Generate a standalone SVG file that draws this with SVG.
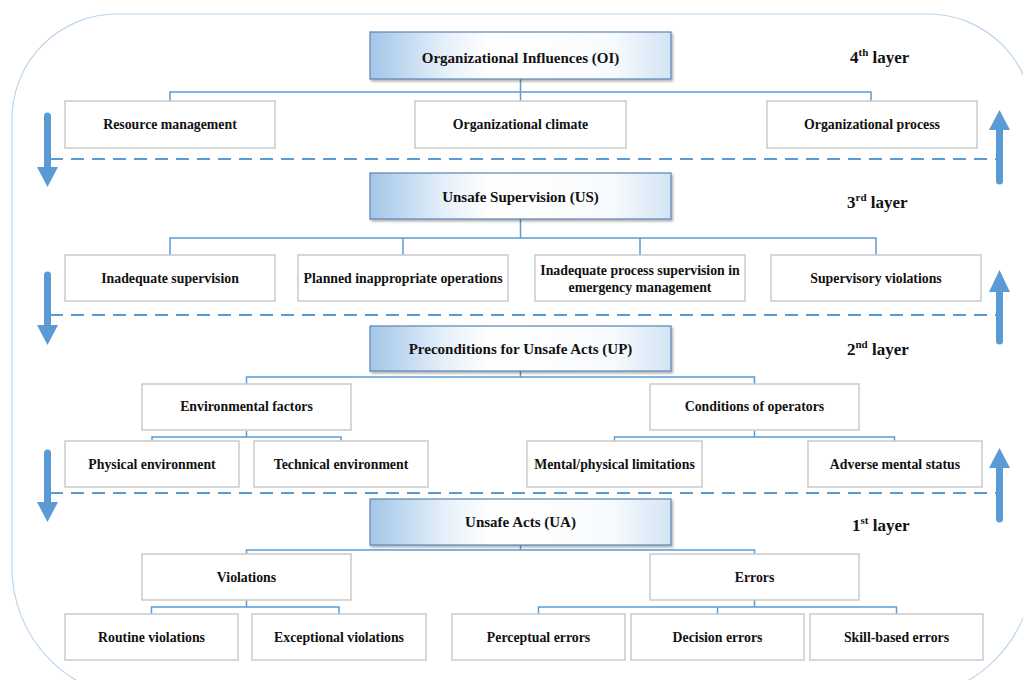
<svg xmlns="http://www.w3.org/2000/svg" width="1023" height="680" viewBox="0 0 1023 680">
  <style>
    .frame { fill: none; stroke: #bcd6ee; stroke-width: 1.2; }
    .hdr { fill: url(#hdrFill); stroke: #5a84b2; stroke-width: 1.2; filter: url(#shadow); }
    .box { fill: #ffffff; stroke: #cacaca; stroke-width: 1.5; }
    .lbl { font-family: "Liberation Serif", "Times New Roman", serif; font-weight: bold; font-size: 13.8px; fill: #111; text-anchor: middle; }
    .hlbl { font-family: "Liberation Serif", "Times New Roman", serif; font-weight: bold; font-size: 15px; fill: #111; text-anchor: middle; }
    .layer { font-family: "Liberation Serif", "Times New Roman", serif; font-weight: bold; font-size: 17px; fill: #111; }
    .conn { fill: none; stroke: #5b9bd5; stroke-width: 1.5; }
    .dash { fill: none; stroke: #5b9bd5; stroke-width: 2; stroke-dasharray: 13 8; }
    .shaft { fill: none; stroke: #5b9bd5; stroke-width: 7; stroke-linecap: round; }
    .head { fill: #5b9bd5; }
  </style>
  <defs>
    <linearGradient id="hdrFill" x1="0" y1="0" x2="1" y2="0">
      <stop offset="0" stop-color="#a3c6e8"/>
      <stop offset="0.25" stop-color="#e6f0fa"/>
      <stop offset="0.4" stop-color="#ffffff"/>
      <stop offset="0.8" stop-color="#f8fbfe"/>
      <stop offset="1" stop-color="#d3e4f4"/>
    </linearGradient>
    <filter id="shadow" x="-5%" y="-20%" width="110%" height="150%">
      <feDropShadow dx="1.5" dy="2" stdDeviation="1.2" flood-color="#000" flood-opacity="0.3"/>
    </filter>
  </defs>

  <!-- outer rounded frame -->
  <path class="frame" d="M117,14 H928 A105,105 0 0 1 1033,119 V568 A130,130 0 0 1 903,698 H142 A130,130 0 0 1 12,568 V119 A105,105 0 0 1 117,14 Z"/>

  <!-- connectors -->
  <g id="connectors">
    <!-- layer 4 -->
    <path class="conn" d="M520.5,79 V92 M170,101 V92 H871 V101 M520.5,92 V101"/>
    <!-- layer 3 -->
    <path class="conn" d="M520.5,219 V238 M170,255 V238 H876 V255 M403,238 V255 M640,238 V255"/>
    <!-- layer 2 -->
    <path class="conn" d="M520.5,371 V377 M246.5,385 V377 H754.5 V385"/>
    <path class="conn" d="M246.5,431 V437 M152,441 V437 H341 V441"/>
    <path class="conn" d="M754.5,431 V437 M614.5,441 V437 H894.5 V441"/>
    <!-- layer 1 -->
    <path class="conn" d="M520.5,545 V550 M246.5,554 V550 H754.5 V554"/>
    <path class="conn" d="M246.5,600 V607 M151.5,614 V607 H339 V614"/>
    <path class="conn" d="M754.5,600 V607 M538.5,614 V607 H896.5 V614 M717.5,607 V614"/>

    <!-- layer separators -->
    <line class="dash" x1="50" y1="159" x2="999" y2="159"/>
    <line class="dash" x1="50" y1="315" x2="999" y2="315"/>
    <line class="dash" x1="50" y1="493" x2="999" y2="493"/>

    <!-- downward arrows -->
    <line class="shaft" x1="47.5" y1="116" x2="47.5" y2="168"/>
    <polygon class="head" points="37,167 58,167 47.5,187"/>
    <line class="shaft" x1="47.5" y1="275" x2="47.5" y2="326"/>
    <polygon class="head" points="37,325 58,325 47.5,345"/>
    <line class="shaft" x1="47.5" y1="453" x2="47.5" y2="503"/>
    <polygon class="head" points="37,502 58,502 47.5,522"/>

    <!-- upward arrows -->
    <line class="shaft" x1="999.5" y1="181" x2="999.5" y2="129"/>
    <polygon class="head" points="989,130 1010,130 999.5,110"/>
    <line class="shaft" x1="999.5" y1="341" x2="999.5" y2="291"/>
    <polygon class="head" points="989,292 1010,292 999.5,270"/>
    <line class="shaft" x1="999.5" y1="519" x2="999.5" y2="467"/>
    <polygon class="head" points="989,468 1010,468 999.5,448"/>
  </g>

  <!-- layer captions -->
  <text class="layer" x="850" y="63">4<tspan font-size="11" dy="-7">th</tspan><tspan dy="7"> layer</tspan></text>
  <text class="layer" x="847" y="208">3<tspan font-size="11" dy="-7">rd</tspan><tspan dy="7"> layer</tspan></text>
  <text class="layer" x="847" y="355">2<tspan font-size="11" dy="-7">nd</tspan><tspan dy="7"> layer</tspan></text>
  <text class="layer" x="852" y="531">1<tspan font-size="11" dy="-7">st</tspan><tspan dy="7"> layer</tspan></text>

  <!-- 4th layer: organizational influences -->
  <g id="oi">
    <rect class="hdr" x="370" y="32" width="301" height="47"/>
    <text class="hlbl" x="520.5" y="63">Organizational Influences (OI)</text>
  </g>
  <g id="resource-management">
    <rect class="box" x="65" y="101" width="210" height="47"/>
    <text class="lbl" x="170" y="129">Resource management</text>
  </g>
  <g id="organizational-climate">
    <rect class="box" x="415" y="101" width="211" height="47"/>
    <text class="lbl" x="520.5" y="129">Organizational climate</text>
  </g>
  <g id="organizational-process">
    <rect class="box" x="767" y="101" width="210" height="47"/>
    <text class="lbl" x="872" y="129">Organizational process</text>
  </g>

  <!-- 3rd layer: unsafe supervision -->
  <g id="us">
    <rect class="hdr" x="370" y="173" width="301" height="46"/>
    <text class="hlbl" x="520.5" y="202">Unsafe Supervision (US)</text>
  </g>
  <g id="inadequate-supervision">
    <rect class="box" x="65" y="255" width="210" height="46"/>
    <text class="lbl" x="170" y="283">Inadequate supervision</text>
  </g>
  <g id="planned-inappropriate-operations">
    <rect class="box" x="298" y="255" width="210" height="46"/>
    <text class="lbl" x="403" y="283">Planned inappropriate operations</text>
  </g>
  <g id="inadequate-process-supervision">
    <rect class="box" x="535" y="255" width="210" height="46"/>
    <text class="lbl" x="640" y="275">Inadequate process supervision in</text>
    <text class="lbl" x="640" y="292">emergency management</text>
  </g>
  <g id="supervisory-violations">
    <rect class="box" x="771" y="255" width="210" height="46"/>
    <text class="lbl" x="876" y="283">Supervisory violations</text>
  </g>

  <!-- 2nd layer: preconditions -->
  <g id="up">
    <rect class="hdr" x="370" y="326" width="301" height="45"/>
    <text class="hlbl" x="520.5" y="354">Preconditions for Unsafe Acts (UP)</text>
  </g>
  <g id="environmental-factors">
    <rect class="box" x="142" y="384" width="209" height="46"/>
    <text class="lbl" x="246.5" y="411">Environmental factors</text>
  </g>
  <g id="conditions-of-operators">
    <rect class="box" x="650" y="384" width="209" height="46"/>
    <text class="lbl" x="754.5" y="411">Conditions of operators</text>
  </g>
  <g id="physical-environment">
    <rect class="box" x="65" y="441" width="174" height="46"/>
    <text class="lbl" x="152" y="469">Physical environment</text>
  </g>
  <g id="technical-environment">
    <rect class="box" x="254" y="441" width="174" height="46"/>
    <text class="lbl" x="341" y="469">Technical environment</text>
  </g>
  <g id="mental-physical-limitations">
    <rect class="box" x="527" y="441" width="175" height="46"/>
    <text class="lbl" x="614.5" y="469">Mental/physical limitations</text>
  </g>
  <g id="adverse-mental-status">
    <rect class="box" x="808" y="441" width="174" height="46"/>
    <text class="lbl" x="895" y="469">Adverse mental status</text>
  </g>

  <!-- 1st layer: unsafe acts -->
  <g id="ua">
    <rect class="hdr" x="370" y="499" width="301" height="46"/>
    <text class="hlbl" x="520.5" y="527">Unsafe Acts (UA)</text>
  </g>
  <g id="violations">
    <rect class="box" x="142" y="554" width="209" height="46"/>
    <text class="lbl" x="246.5" y="582">Violations</text>
  </g>
  <g id="errors">
    <rect class="box" x="650" y="554" width="209" height="46"/>
    <text class="lbl" x="754.5" y="582">Errors</text>
  </g>
  <g id="routine-violations">
    <rect class="box" x="65" y="614" width="173" height="46"/>
    <text class="lbl" x="151.5" y="642">Routine violations</text>
  </g>
  <g id="exceptional-violations">
    <rect class="box" x="252" y="614" width="174" height="46"/>
    <text class="lbl" x="339" y="642">Exceptional violations</text>
  </g>
  <g id="perceptual-errors">
    <rect class="box" x="452" y="614" width="173" height="46"/>
    <text class="lbl" x="538.5" y="642">Perceptual errors</text>
  </g>
  <g id="decision-errors">
    <rect class="box" x="631" y="614" width="173" height="46"/>
    <text class="lbl" x="717.5" y="642">Decision errors</text>
  </g>
  <g id="skill-based-errors">
    <rect class="box" x="810" y="614" width="173" height="46"/>
    <text class="lbl" x="896.5" y="642">Skill-based errors</text>
  </g>
</svg>
